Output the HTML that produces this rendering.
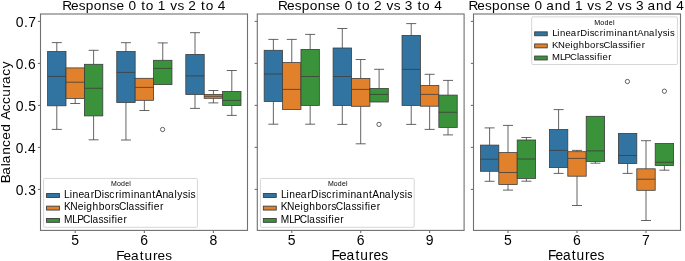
<!DOCTYPE html>
<html><head><meta charset="utf-8"><style>
html,body{margin:0;padding:0;background:#fff;}
svg{display:block;will-change:transform;}
text{font-family:"Liberation Sans", sans-serif;fill:#000;}
</style></head><body>
<svg width="685" height="261" viewBox="0 0 685 261">
<rect width="685" height="261" fill="#fff"/>
<line x1="56.80" y1="42.6" x2="56.80" y2="51.5" stroke="#3d3d3d" stroke-width="0.8"/>
<line x1="51.80" y1="42.6" x2="61.80" y2="42.6" stroke="#3d3d3d" stroke-width="0.8"/>
<line x1="56.80" y1="105.8" x2="56.80" y2="129.4" stroke="#3d3d3d" stroke-width="0.8"/>
<line x1="51.80" y1="129.4" x2="61.80" y2="129.4" stroke="#3d3d3d" stroke-width="0.8"/>
<rect x="47.60" y="51.5" width="18.4" height="54.30" fill="#3274a1" stroke="#3d3d3d" stroke-width="0.8"/>
<line x1="47.60" y1="76.4" x2="66.00" y2="76.4" stroke="#3d3d3d" stroke-width="0.8"/>
<line x1="75.20" y1="98.4" x2="75.20" y2="103.5" stroke="#3d3d3d" stroke-width="0.8"/>
<line x1="70.20" y1="103.5" x2="80.20" y2="103.5" stroke="#3d3d3d" stroke-width="0.8"/>
<rect x="66.00" y="67.9" width="18.4" height="30.50" fill="#e1812c" stroke="#3d3d3d" stroke-width="0.8"/>
<line x1="66.00" y1="82.2" x2="84.40" y2="82.2" stroke="#3d3d3d" stroke-width="0.8"/>
<line x1="93.60" y1="50.3" x2="93.60" y2="64.3" stroke="#3d3d3d" stroke-width="0.8"/>
<line x1="88.60" y1="50.3" x2="98.60" y2="50.3" stroke="#3d3d3d" stroke-width="0.8"/>
<line x1="93.60" y1="115.9" x2="93.60" y2="139.8" stroke="#3d3d3d" stroke-width="0.8"/>
<line x1="88.60" y1="139.8" x2="98.60" y2="139.8" stroke="#3d3d3d" stroke-width="0.8"/>
<rect x="84.40" y="64.3" width="18.4" height="51.60" fill="#3a923a" stroke="#3d3d3d" stroke-width="0.8"/>
<line x1="84.40" y1="88.3" x2="102.80" y2="88.3" stroke="#3d3d3d" stroke-width="0.8"/>
<line x1="125.95" y1="42.7" x2="125.95" y2="51.5" stroke="#3d3d3d" stroke-width="0.8"/>
<line x1="120.95" y1="42.7" x2="130.95" y2="42.7" stroke="#3d3d3d" stroke-width="0.8"/>
<line x1="125.95" y1="102.5" x2="125.95" y2="140.0" stroke="#3d3d3d" stroke-width="0.8"/>
<line x1="120.95" y1="140.0" x2="130.95" y2="140.0" stroke="#3d3d3d" stroke-width="0.8"/>
<rect x="116.75" y="51.5" width="18.4" height="51.00" fill="#3274a1" stroke="#3d3d3d" stroke-width="0.8"/>
<line x1="116.75" y1="72.4" x2="135.15" y2="72.4" stroke="#3d3d3d" stroke-width="0.8"/>
<line x1="144.35" y1="100.3" x2="144.35" y2="110.5" stroke="#3d3d3d" stroke-width="0.8"/>
<line x1="139.35" y1="110.5" x2="149.35" y2="110.5" stroke="#3d3d3d" stroke-width="0.8"/>
<rect x="135.15" y="78.3" width="18.4" height="22.00" fill="#e1812c" stroke="#3d3d3d" stroke-width="0.8"/>
<line x1="135.15" y1="87.4" x2="153.55" y2="87.4" stroke="#3d3d3d" stroke-width="0.8"/>
<line x1="162.75" y1="42.9" x2="162.75" y2="60.3" stroke="#3d3d3d" stroke-width="0.8"/>
<line x1="157.75" y1="42.9" x2="167.75" y2="42.9" stroke="#3d3d3d" stroke-width="0.8"/>
<rect x="153.55" y="60.3" width="18.4" height="24.30" fill="#3a923a" stroke="#3d3d3d" stroke-width="0.8"/>
<line x1="153.55" y1="68.4" x2="171.95" y2="68.4" stroke="#3d3d3d" stroke-width="0.8"/>
<circle cx="162.6" cy="129.5" r="2.15" fill="none" stroke="#3d3d3d" stroke-width="0.8"/>
<line x1="195.00" y1="32.7" x2="195.00" y2="54.4" stroke="#3d3d3d" stroke-width="0.8"/>
<line x1="190.00" y1="32.7" x2="200.00" y2="32.7" stroke="#3d3d3d" stroke-width="0.8"/>
<line x1="195.00" y1="94.5" x2="195.00" y2="108.4" stroke="#3d3d3d" stroke-width="0.8"/>
<line x1="190.00" y1="108.4" x2="200.00" y2="108.4" stroke="#3d3d3d" stroke-width="0.8"/>
<rect x="185.80" y="54.4" width="18.4" height="40.10" fill="#3274a1" stroke="#3d3d3d" stroke-width="0.8"/>
<line x1="185.80" y1="75.9" x2="204.20" y2="75.9" stroke="#3d3d3d" stroke-width="0.8"/>
<line x1="213.40" y1="90.5" x2="213.40" y2="94.4" stroke="#3d3d3d" stroke-width="0.8"/>
<line x1="208.40" y1="90.5" x2="218.40" y2="90.5" stroke="#3d3d3d" stroke-width="0.8"/>
<line x1="213.40" y1="98.3" x2="213.40" y2="102.9" stroke="#3d3d3d" stroke-width="0.8"/>
<line x1="208.40" y1="102.9" x2="218.40" y2="102.9" stroke="#3d3d3d" stroke-width="0.8"/>
<rect x="204.20" y="94.4" width="18.4" height="3.90" fill="#e1812c" stroke="#3d3d3d" stroke-width="0.8"/>
<line x1="204.20" y1="96.3" x2="222.60" y2="96.3" stroke="#3d3d3d" stroke-width="0.8"/>
<line x1="231.80" y1="70.5" x2="231.80" y2="91.4" stroke="#3d3d3d" stroke-width="0.8"/>
<line x1="226.80" y1="70.5" x2="236.80" y2="70.5" stroke="#3d3d3d" stroke-width="0.8"/>
<line x1="231.80" y1="105.5" x2="231.80" y2="115.4" stroke="#3d3d3d" stroke-width="0.8"/>
<line x1="226.80" y1="115.4" x2="236.80" y2="115.4" stroke="#3d3d3d" stroke-width="0.8"/>
<rect x="222.60" y="91.4" width="18.4" height="14.10" fill="#3a923a" stroke="#3d3d3d" stroke-width="0.8"/>
<line x1="222.60" y1="100.4" x2="241.00" y2="100.4" stroke="#3d3d3d" stroke-width="0.8"/>
<rect x="40.5" y="14.0" width="207.00" height="216.40" fill="none" stroke="#707070" stroke-width="1.1"/>
<line x1="37.9" y1="189.40" x2="40.5" y2="189.40" stroke="#707070" stroke-width="1.1"/>
<text x="15.64 23.85 28.21" y="194.80" font-size="13.94">0.3</text>
<line x1="37.9" y1="147.40" x2="40.5" y2="147.40" stroke="#707070" stroke-width="1.1"/>
<text x="15.65 23.72 27.99" y="152.80" font-size="13.72">0.4</text>
<line x1="37.9" y1="105.40" x2="40.5" y2="105.40" stroke="#707070" stroke-width="1.1"/>
<text x="15.63 23.89 28.20" y="110.80" font-size="14.02">0.5</text>
<line x1="37.9" y1="63.40" x2="40.5" y2="63.40" stroke="#707070" stroke-width="1.1"/>
<text x="15.64 23.76 28.05" y="68.80" font-size="13.78">0.6</text>
<line x1="37.9" y1="21.40" x2="40.5" y2="21.40" stroke="#707070" stroke-width="1.1"/>
<text x="15.63 23.88 28.21" y="26.80" font-size="14.00">0.7</text>
<line x1="75.20" y1="230.4" x2="75.20" y2="233.0" stroke="#707070" stroke-width="1.1"/>
<text x="71.22" y="245.10" font-size="13.99">5</text>
<line x1="144.35" y1="230.4" x2="144.35" y2="233.0" stroke="#707070" stroke-width="1.1"/>
<text x="140.31" y="245.10" font-size="13.99">6</text>
<line x1="213.40" y1="230.4" x2="213.40" y2="233.0" stroke="#707070" stroke-width="1.1"/>
<text x="209.41" y="245.10" font-size="13.99">8</text>
<text x="116.25 123.61 130.98 139.77 144.47 152.97 157.53 165.27" y="259.50" font-size="13.61">Features</text>
<text x="62.19 70.98 78.73 85.77 93.71 101.74 109.61 116.46 124.18 128.56 136.45 141.13 145.72 153.44 157.75 165.71 170.19 177.43 184.10 188.31 196.36 201.04 205.64 213.36 217.74" y="9.80" font-size="13.63">Response 0 to 1 vs 2 to 4</text>
<line x1="273.37" y1="39.4" x2="273.37" y2="50.3" stroke="#3d3d3d" stroke-width="0.8"/>
<line x1="268.37" y1="39.4" x2="278.37" y2="39.4" stroke="#3d3d3d" stroke-width="0.8"/>
<line x1="273.37" y1="101.5" x2="273.37" y2="124.2" stroke="#3d3d3d" stroke-width="0.8"/>
<line x1="268.37" y1="124.2" x2="278.37" y2="124.2" stroke="#3d3d3d" stroke-width="0.8"/>
<rect x="264.17" y="50.3" width="18.4" height="51.20" fill="#3274a1" stroke="#3d3d3d" stroke-width="0.8"/>
<line x1="264.17" y1="74.0" x2="282.57" y2="74.0" stroke="#3d3d3d" stroke-width="0.8"/>
<line x1="291.77" y1="39.4" x2="291.77" y2="62.6" stroke="#3d3d3d" stroke-width="0.8"/>
<line x1="286.77" y1="39.4" x2="296.77" y2="39.4" stroke="#3d3d3d" stroke-width="0.8"/>
<rect x="282.57" y="62.6" width="18.4" height="46.80" fill="#e1812c" stroke="#3d3d3d" stroke-width="0.8"/>
<line x1="282.57" y1="89.4" x2="300.97" y2="89.4" stroke="#3d3d3d" stroke-width="0.8"/>
<line x1="310.17" y1="34.4" x2="310.17" y2="49.4" stroke="#3d3d3d" stroke-width="0.8"/>
<line x1="305.17" y1="34.4" x2="315.17" y2="34.4" stroke="#3d3d3d" stroke-width="0.8"/>
<line x1="310.17" y1="105.4" x2="310.17" y2="124.2" stroke="#3d3d3d" stroke-width="0.8"/>
<line x1="305.17" y1="124.2" x2="315.17" y2="124.2" stroke="#3d3d3d" stroke-width="0.8"/>
<rect x="300.97" y="49.4" width="18.4" height="56.00" fill="#3a923a" stroke="#3d3d3d" stroke-width="0.8"/>
<line x1="300.97" y1="76.5" x2="319.37" y2="76.5" stroke="#3d3d3d" stroke-width="0.8"/>
<line x1="342.30" y1="28.5" x2="342.30" y2="48.0" stroke="#3d3d3d" stroke-width="0.8"/>
<line x1="337.30" y1="28.5" x2="347.30" y2="28.5" stroke="#3d3d3d" stroke-width="0.8"/>
<line x1="342.30" y1="105.5" x2="342.30" y2="124.4" stroke="#3d3d3d" stroke-width="0.8"/>
<line x1="337.30" y1="124.4" x2="347.30" y2="124.4" stroke="#3d3d3d" stroke-width="0.8"/>
<rect x="333.10" y="48.0" width="18.4" height="57.50" fill="#3274a1" stroke="#3d3d3d" stroke-width="0.8"/>
<line x1="333.10" y1="76.5" x2="351.50" y2="76.5" stroke="#3d3d3d" stroke-width="0.8"/>
<line x1="360.70" y1="59.5" x2="360.70" y2="78.4" stroke="#3d3d3d" stroke-width="0.8"/>
<line x1="355.70" y1="59.5" x2="365.70" y2="59.5" stroke="#3d3d3d" stroke-width="0.8"/>
<line x1="360.70" y1="106.3" x2="360.70" y2="143.8" stroke="#3d3d3d" stroke-width="0.8"/>
<line x1="355.70" y1="143.8" x2="365.70" y2="143.8" stroke="#3d3d3d" stroke-width="0.8"/>
<rect x="351.50" y="78.4" width="18.4" height="27.90" fill="#e1812c" stroke="#3d3d3d" stroke-width="0.8"/>
<line x1="351.50" y1="89.4" x2="369.90" y2="89.4" stroke="#3d3d3d" stroke-width="0.8"/>
<line x1="379.10" y1="69.3" x2="379.10" y2="88.4" stroke="#3d3d3d" stroke-width="0.8"/>
<line x1="374.10" y1="69.3" x2="384.10" y2="69.3" stroke="#3d3d3d" stroke-width="0.8"/>
<rect x="369.90" y="88.4" width="18.4" height="13.60" fill="#3a923a" stroke="#3d3d3d" stroke-width="0.8"/>
<line x1="369.90" y1="94.4" x2="388.30" y2="94.4" stroke="#3d3d3d" stroke-width="0.8"/>
<circle cx="379.0" cy="124.4" r="2.15" fill="none" stroke="#3d3d3d" stroke-width="0.8"/>
<line x1="411.23" y1="23.6" x2="411.23" y2="35.4" stroke="#3d3d3d" stroke-width="0.8"/>
<line x1="406.23" y1="23.6" x2="416.23" y2="23.6" stroke="#3d3d3d" stroke-width="0.8"/>
<line x1="411.23" y1="105.5" x2="411.23" y2="124.4" stroke="#3d3d3d" stroke-width="0.8"/>
<line x1="406.23" y1="124.4" x2="416.23" y2="124.4" stroke="#3d3d3d" stroke-width="0.8"/>
<rect x="402.03" y="35.4" width="18.4" height="70.10" fill="#3274a1" stroke="#3d3d3d" stroke-width="0.8"/>
<line x1="402.03" y1="69.4" x2="420.43" y2="69.4" stroke="#3d3d3d" stroke-width="0.8"/>
<line x1="429.63" y1="74.3" x2="429.63" y2="85.5" stroke="#3d3d3d" stroke-width="0.8"/>
<line x1="424.63" y1="74.3" x2="434.63" y2="74.3" stroke="#3d3d3d" stroke-width="0.8"/>
<line x1="429.63" y1="106.2" x2="429.63" y2="129.4" stroke="#3d3d3d" stroke-width="0.8"/>
<line x1="424.63" y1="129.4" x2="434.63" y2="129.4" stroke="#3d3d3d" stroke-width="0.8"/>
<rect x="420.43" y="85.5" width="18.4" height="20.70" fill="#e1812c" stroke="#3d3d3d" stroke-width="0.8"/>
<line x1="420.43" y1="94.4" x2="438.83" y2="94.4" stroke="#3d3d3d" stroke-width="0.8"/>
<line x1="448.03" y1="80.4" x2="448.03" y2="95.1" stroke="#3d3d3d" stroke-width="0.8"/>
<line x1="443.03" y1="80.4" x2="453.03" y2="80.4" stroke="#3d3d3d" stroke-width="0.8"/>
<line x1="448.03" y1="127.4" x2="448.03" y2="134.9" stroke="#3d3d3d" stroke-width="0.8"/>
<line x1="443.03" y1="134.9" x2="453.03" y2="134.9" stroke="#3d3d3d" stroke-width="0.8"/>
<rect x="438.83" y="95.1" width="18.4" height="32.30" fill="#3a923a" stroke="#3d3d3d" stroke-width="0.8"/>
<line x1="438.83" y1="112.3" x2="457.23" y2="112.3" stroke="#3d3d3d" stroke-width="0.8"/>
<rect x="257.3" y="14.0" width="206.80" height="216.40" fill="none" stroke="#707070" stroke-width="1.1"/>
<line x1="254.70000000000002" y1="189.40" x2="257.3" y2="189.40" stroke="#707070" stroke-width="1.1"/>
<line x1="254.70000000000002" y1="147.40" x2="257.3" y2="147.40" stroke="#707070" stroke-width="1.1"/>
<line x1="254.70000000000002" y1="105.40" x2="257.3" y2="105.40" stroke="#707070" stroke-width="1.1"/>
<line x1="254.70000000000002" y1="63.40" x2="257.3" y2="63.40" stroke="#707070" stroke-width="1.1"/>
<line x1="254.70000000000002" y1="21.40" x2="257.3" y2="21.40" stroke="#707070" stroke-width="1.1"/>
<line x1="291.77" y1="230.4" x2="291.77" y2="233.0" stroke="#707070" stroke-width="1.1"/>
<text x="287.79" y="245.10" font-size="13.99">5</text>
<line x1="360.70" y1="230.4" x2="360.70" y2="233.0" stroke="#707070" stroke-width="1.1"/>
<text x="356.66" y="245.10" font-size="13.99">6</text>
<line x1="429.63" y1="230.4" x2="429.63" y2="233.0" stroke="#707070" stroke-width="1.1"/>
<text x="425.65" y="245.10" font-size="13.99">9</text>
<text x="331.62 339.08 346.55 355.46 360.22 368.83 373.45 381.29" y="259.50" font-size="13.79">Features</text>
<text x="278.08 286.91 294.69 301.75 309.72 317.78 325.68 332.56 340.31 344.71 352.62 357.31 361.93 369.67 373.90 381.98 386.49 393.76 400.45 404.86 412.76 417.45 422.07 429.81 434.21" y="9.80" font-size="13.68">Response 0 to 2 vs 3 to 4</text>
<line x1="489.60" y1="127.9" x2="489.60" y2="145.1" stroke="#3d3d3d" stroke-width="0.8"/>
<line x1="484.60" y1="127.9" x2="494.60" y2="127.9" stroke="#3d3d3d" stroke-width="0.8"/>
<line x1="489.60" y1="171.3" x2="489.60" y2="181.3" stroke="#3d3d3d" stroke-width="0.8"/>
<line x1="484.60" y1="181.3" x2="494.60" y2="181.3" stroke="#3d3d3d" stroke-width="0.8"/>
<rect x="480.40" y="145.1" width="18.4" height="26.20" fill="#3274a1" stroke="#3d3d3d" stroke-width="0.8"/>
<line x1="480.40" y1="159.2" x2="498.80" y2="159.2" stroke="#3d3d3d" stroke-width="0.8"/>
<line x1="508.00" y1="125.4" x2="508.00" y2="152.6" stroke="#3d3d3d" stroke-width="0.8"/>
<line x1="503.00" y1="125.4" x2="513.00" y2="125.4" stroke="#3d3d3d" stroke-width="0.8"/>
<line x1="508.00" y1="184.5" x2="508.00" y2="190.1" stroke="#3d3d3d" stroke-width="0.8"/>
<line x1="503.00" y1="190.1" x2="513.00" y2="190.1" stroke="#3d3d3d" stroke-width="0.8"/>
<rect x="498.80" y="152.6" width="18.4" height="31.90" fill="#e1812c" stroke="#3d3d3d" stroke-width="0.8"/>
<line x1="498.80" y1="172.5" x2="517.20" y2="172.5" stroke="#3d3d3d" stroke-width="0.8"/>
<line x1="526.40" y1="137.5" x2="526.40" y2="140.0" stroke="#3d3d3d" stroke-width="0.8"/>
<line x1="521.40" y1="137.5" x2="531.40" y2="137.5" stroke="#3d3d3d" stroke-width="0.8"/>
<line x1="526.40" y1="178.4" x2="526.40" y2="181.2" stroke="#3d3d3d" stroke-width="0.8"/>
<line x1="521.40" y1="181.2" x2="531.40" y2="181.2" stroke="#3d3d3d" stroke-width="0.8"/>
<rect x="517.20" y="140.0" width="18.4" height="38.40" fill="#3a923a" stroke="#3d3d3d" stroke-width="0.8"/>
<line x1="517.20" y1="159.0" x2="535.60" y2="159.0" stroke="#3d3d3d" stroke-width="0.8"/>
<line x1="558.60" y1="109.6" x2="558.60" y2="129.5" stroke="#3d3d3d" stroke-width="0.8"/>
<line x1="553.60" y1="109.6" x2="563.60" y2="109.6" stroke="#3d3d3d" stroke-width="0.8"/>
<line x1="558.60" y1="167.6" x2="558.60" y2="173.4" stroke="#3d3d3d" stroke-width="0.8"/>
<line x1="553.60" y1="173.4" x2="563.60" y2="173.4" stroke="#3d3d3d" stroke-width="0.8"/>
<rect x="549.40" y="129.5" width="18.4" height="38.10" fill="#3274a1" stroke="#3d3d3d" stroke-width="0.8"/>
<line x1="549.40" y1="150.4" x2="567.80" y2="150.4" stroke="#3d3d3d" stroke-width="0.8"/>
<line x1="577.00" y1="150.4" x2="577.00" y2="151.7" stroke="#3d3d3d" stroke-width="0.8"/>
<line x1="572.00" y1="150.4" x2="582.00" y2="150.4" stroke="#3d3d3d" stroke-width="0.8"/>
<line x1="577.00" y1="176.2" x2="577.00" y2="205.5" stroke="#3d3d3d" stroke-width="0.8"/>
<line x1="572.00" y1="205.5" x2="582.00" y2="205.5" stroke="#3d3d3d" stroke-width="0.8"/>
<rect x="567.80" y="151.7" width="18.4" height="24.50" fill="#e1812c" stroke="#3d3d3d" stroke-width="0.8"/>
<line x1="567.80" y1="158.4" x2="586.20" y2="158.4" stroke="#3d3d3d" stroke-width="0.8"/>
<line x1="595.40" y1="161.5" x2="595.40" y2="163.2" stroke="#3d3d3d" stroke-width="0.8"/>
<line x1="590.40" y1="163.2" x2="600.40" y2="163.2" stroke="#3d3d3d" stroke-width="0.8"/>
<rect x="586.20" y="116.3" width="18.4" height="45.20" fill="#3a923a" stroke="#3d3d3d" stroke-width="0.8"/>
<line x1="586.20" y1="150.9" x2="604.60" y2="150.9" stroke="#3d3d3d" stroke-width="0.8"/>
<line x1="627.60" y1="163.6" x2="627.60" y2="173.4" stroke="#3d3d3d" stroke-width="0.8"/>
<line x1="622.60" y1="173.4" x2="632.60" y2="173.4" stroke="#3d3d3d" stroke-width="0.8"/>
<rect x="618.40" y="133.4" width="18.4" height="30.20" fill="#3274a1" stroke="#3d3d3d" stroke-width="0.8"/>
<line x1="618.40" y1="155.5" x2="636.80" y2="155.5" stroke="#3d3d3d" stroke-width="0.8"/>
<circle cx="627.4" cy="81.5" r="2.15" fill="none" stroke="#3d3d3d" stroke-width="0.8"/>
<line x1="646.00" y1="140.7" x2="646.00" y2="168.8" stroke="#3d3d3d" stroke-width="0.8"/>
<line x1="641.00" y1="140.7" x2="651.00" y2="140.7" stroke="#3d3d3d" stroke-width="0.8"/>
<line x1="646.00" y1="190.3" x2="646.00" y2="220.5" stroke="#3d3d3d" stroke-width="0.8"/>
<line x1="641.00" y1="220.5" x2="651.00" y2="220.5" stroke="#3d3d3d" stroke-width="0.8"/>
<rect x="636.80" y="168.8" width="18.4" height="21.50" fill="#e1812c" stroke="#3d3d3d" stroke-width="0.8"/>
<line x1="636.80" y1="179.2" x2="655.20" y2="179.2" stroke="#3d3d3d" stroke-width="0.8"/>
<line x1="664.40" y1="165.5" x2="664.40" y2="170.2" stroke="#3d3d3d" stroke-width="0.8"/>
<line x1="659.40" y1="170.2" x2="669.40" y2="170.2" stroke="#3d3d3d" stroke-width="0.8"/>
<rect x="655.20" y="143.5" width="18.4" height="22.00" fill="#3a923a" stroke="#3d3d3d" stroke-width="0.8"/>
<line x1="655.20" y1="162.3" x2="673.60" y2="162.3" stroke="#3d3d3d" stroke-width="0.8"/>
<circle cx="664.4" cy="91.2" r="2.15" fill="none" stroke="#3d3d3d" stroke-width="0.8"/>
<rect x="473.5" y="14.0" width="207.00" height="216.40" fill="none" stroke="#707070" stroke-width="1.1"/>
<line x1="470.9" y1="189.40" x2="473.5" y2="189.40" stroke="#707070" stroke-width="1.1"/>
<line x1="470.9" y1="147.40" x2="473.5" y2="147.40" stroke="#707070" stroke-width="1.1"/>
<line x1="470.9" y1="105.40" x2="473.5" y2="105.40" stroke="#707070" stroke-width="1.1"/>
<line x1="470.9" y1="63.40" x2="473.5" y2="63.40" stroke="#707070" stroke-width="1.1"/>
<line x1="470.9" y1="21.40" x2="473.5" y2="21.40" stroke="#707070" stroke-width="1.1"/>
<line x1="508.00" y1="230.4" x2="508.00" y2="233.0" stroke="#707070" stroke-width="1.1"/>
<text x="504.02" y="245.10" font-size="13.99">5</text>
<line x1="577.00" y1="230.4" x2="577.00" y2="233.0" stroke="#707070" stroke-width="1.1"/>
<text x="572.96" y="245.10" font-size="13.99">6</text>
<line x1="646.00" y1="230.4" x2="646.00" y2="233.0" stroke="#707070" stroke-width="1.1"/>
<text x="642.00" y="245.10" font-size="13.99">7</text>
<text x="548.03 555.46 562.90 571.78 576.52 585.10 589.70 597.52" y="259.50" font-size="13.74">Features</text>
<text x="468.49 477.25 484.97 491.98 499.88 507.87 515.71 522.54 530.22 534.59 542.43 546.17 554.66 562.67 570.59 574.88 582.80 587.26 594.48 601.11 605.31 613.33 617.79 625.00 631.64 636.02 643.85 647.59 656.08 664.09 672.01 676.37" y="9.80" font-size="13.57">Response 0 and 1 vs 2 vs 3 and 4</text>
<text transform="translate(10.4,181.9) rotate(-90)" x="-1.42 7.22 15.70 18.66 27.18 34.99 42.27 50.20 58.14 62.07 70.76 77.82 85.17 93.68 98.00 106.19 113.67" y="0" font-size="13.62">Balanced Accuracy</text>
<rect x="43.6" y="178.4" width="153.8" height="48.9" rx="1" fill="#fff" fill-opacity="0.8" stroke="#d6d6d6" stroke-width="1"/>
<text x="111.09 116.91 120.97 125.14 129.23" y="185.90" font-size="6.98">Model</text>
<rect x="46.55" y="193.55" width="12.90" height="3.9" fill="#3274a1" stroke="#3d3d3d" stroke-width="0.9"/>
<text x="64.09 69.66 72.38 78.43 83.99 90.65 94.21 101.84 104.35 109.36 115.17 118.90 121.85 131.03 133.75 139.40 145.83 152.19 155.43 162.41 168.06 174.46 177.24 182.71 187.94 190.45" y="197.80" font-size="10.27">LinearDiscriminantAnalysis</text>
<rect x="46.55" y="206.15" width="12.90" height="3.9" fill="#e1812c" stroke="#3d3d3d" stroke-width="0.9"/>
<text x="64.02 70.29 77.73 83.72 86.35 92.52 98.69 104.64 110.89 114.41 119.03 126.34 128.56 134.75 139.77 144.97 147.84 151.04 153.65 159.90" y="210.10" font-size="10.21">KNeighborsClassifier</text>
<rect x="46.55" y="218.45" width="12.90" height="3.9" fill="#3a923a" stroke="#3d3d3d" stroke-width="0.9"/>
<text x="63.97 72.35 77.29 83.01 90.26 92.46 98.59 103.57 108.73 111.57 114.75 117.34 123.53" y="222.50" font-size="10.13">MLPClassifier</text>
<rect x="260.40000000000003" y="178.4" width="153.8" height="48.9" rx="1" fill="#fff" fill-opacity="0.8" stroke="#d6d6d6" stroke-width="1"/>
<text x="327.89 333.71 337.77 341.94 346.03" y="185.90" font-size="6.98">Model</text>
<rect x="263.35" y="193.55" width="12.90" height="3.9" fill="#3274a1" stroke="#3d3d3d" stroke-width="0.9"/>
<text x="280.89 286.46 289.18 295.23 300.79 307.45 311.01 318.64 321.15 326.16 331.97 335.70 338.65 347.83 350.55 356.20 362.63 368.99 372.23 379.21 384.86 391.26 394.04 399.51 404.74 407.25" y="197.80" font-size="10.27">LinearDiscriminantAnalysis</text>
<rect x="263.35" y="206.15" width="12.90" height="3.9" fill="#e1812c" stroke="#3d3d3d" stroke-width="0.9"/>
<text x="280.82 287.09 294.53 300.52 303.15 309.32 315.49 321.44 327.69 331.21 335.83 343.14 345.36 351.55 356.57 361.77 364.64 367.84 370.45 376.70" y="210.10" font-size="10.21">KNeighborsClassifier</text>
<rect x="263.35" y="218.45" width="12.90" height="3.9" fill="#3a923a" stroke="#3d3d3d" stroke-width="0.9"/>
<text x="280.77 289.15 294.09 299.81 307.06 309.26 315.39 320.37 325.53 328.37 331.55 334.14 340.33" y="222.50" font-size="10.13">MLPClassifier</text>
<rect x="531.7" y="16.9" width="145.7" height="47.6" rx="1" fill="#fff" fill-opacity="0.8" stroke="#d6d6d6" stroke-width="1"/>
<text x="594.27 600.27 604.47 608.77 612.99" y="24.70" font-size="7.20">Model</text>
<rect x="534.65" y="31.85" width="12.60" height="3.9" fill="#3274a1" stroke="#3d3d3d" stroke-width="0.9"/>
<text x="552.15 557.34 559.88 565.52 570.71 576.92 580.23 587.35 589.69 594.35 599.77 603.25 606.00 614.56 617.10 622.37 628.36 634.29 637.31 643.81 649.08 655.05 657.64 662.74 667.62 669.96" y="35.90" font-size="9.50">LinearDiscriminantAnalysis</text>
<rect x="534.65" y="43.95" width="12.60" height="3.9" fill="#e1812c" stroke="#3d3d3d" stroke-width="0.9"/>
<text x="552.08 557.94 564.88 570.48 572.94 578.71 584.47 590.02 595.86 599.15 603.46 610.29 612.36 618.14 622.83 627.69 630.37 633.36 635.80 641.63" y="47.90" font-size="9.50">KNeighborsClassifier</text>
<rect x="534.65" y="56.05" width="12.60" height="3.9" fill="#3a923a" stroke="#3d3d3d" stroke-width="0.9"/>
<text x="552.02 559.94 564.61 570.02 576.88 578.96 584.75 589.45 594.33 597.02 600.02 602.47 608.32" y="60.00" font-size="9.50">MLPClassifier</text>
</svg>
</body></html>
